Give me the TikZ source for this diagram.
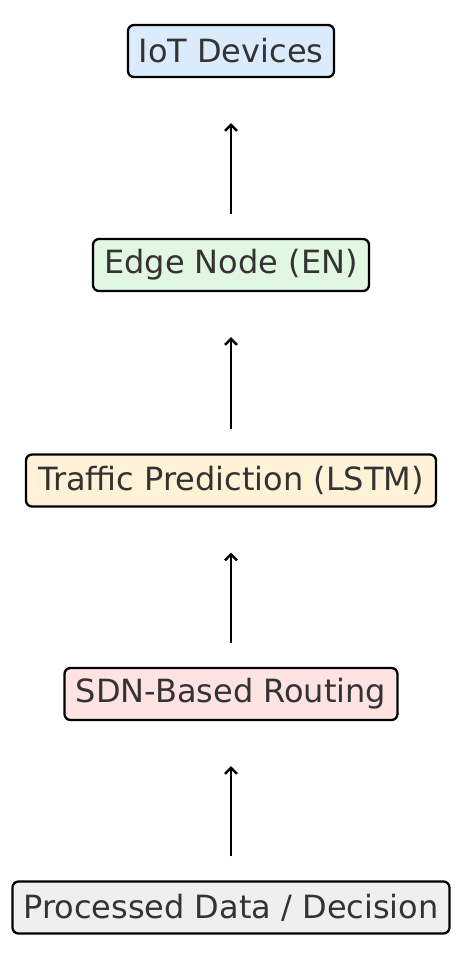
\documentclass[tikz,border=0pt]{standalone}
\usepackage{fontspec}
\setmainfont{DejaVu Sans}
\usetikzlibrary{arrows.meta}
\definecolor{txt}{HTML}{333333}
\definecolor{cblue}{HTML}{DCEBFC}
\definecolor{cgreen}{HTML}{E2F7E2}
\definecolor{cyellow}{HTML}{FFF2D6}
\definecolor{cpink}{HTML}{FFE2E2}
\definecolor{cgray}{HTML}{EFEFEF}
\tikzset{
  box/.style={draw=black, line width=2.3pt, rounded corners=6pt, minimum height=52pt,
    inner sep=0pt, text=txt, font=\fontsize{32}{36}\selectfont},
  flow/.style={line width=2.4pt, -{Straight Barb[length=6pt,width=12pt,line width=2.4pt]}}
}
\begin{document}
\begin{tikzpicture}[x=1pt,y=1pt]
\useasboundingbox (0,0) rectangle (464,-954);
\node[box, fill=cblue, minimum width=206pt] (iot) at (231,-51) {IoT Devices};
\node[box, fill=cgreen, minimum width=276pt] (edge) at (231,-265) {Edge Node (EN)};
\node[box, fill=cyellow, minimum width=410pt] (lstm) at (231,-480.5) {Traffic Prediction (LSTM)};
\node[box, fill=cpink, minimum width=333pt] (sdn) at (231,-694) {SDN-Based Routing};
\node[box, fill=cgray, minimum width=437pt] (proc) at (231,-907.5) {Processed Data / Decision};
\draw[flow] ([yshift=24pt]edge.north) -- ([yshift=-45pt]iot.south);
\draw[flow] ([yshift=24pt]lstm.north) -- ([yshift=-45pt]edge.south);
\draw[flow] ([yshift=24pt]sdn.north) -- ([yshift=-45pt]lstm.south);
\draw[flow] ([yshift=24pt]proc.north) -- ([yshift=-45pt]sdn.south);
\end{tikzpicture}
\end{document}
